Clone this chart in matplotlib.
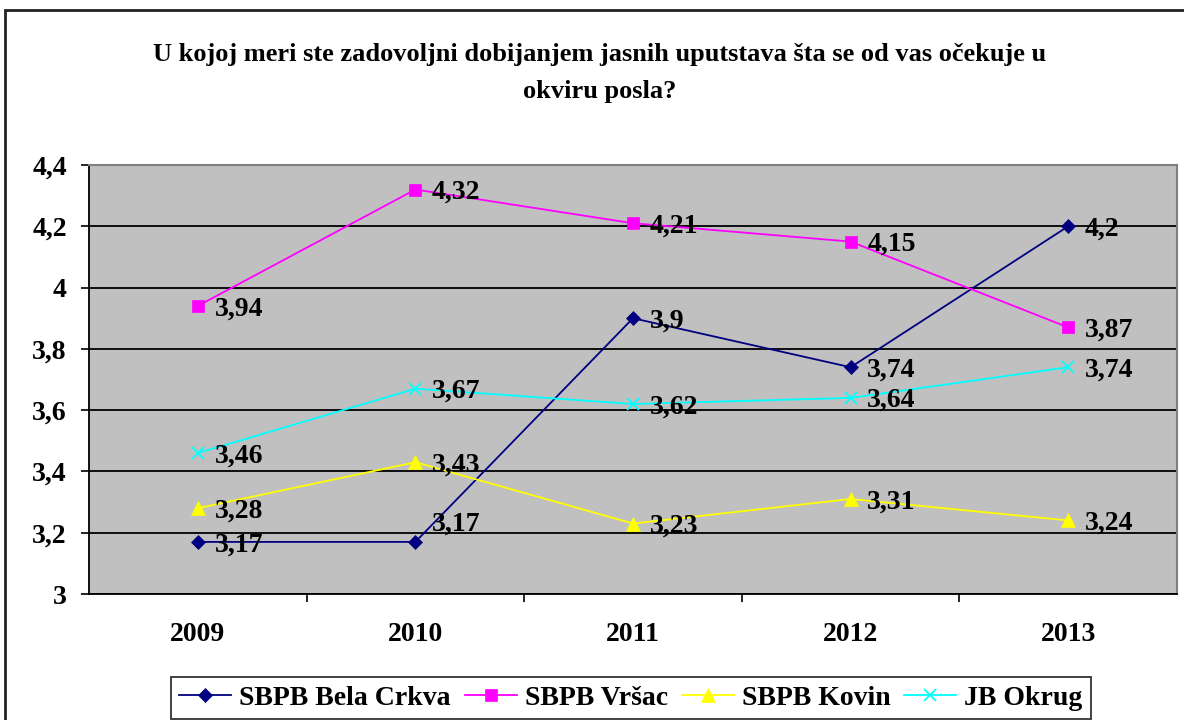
import matplotlib
matplotlib.use("Agg")
import matplotlib.pyplot as plt
from matplotlib.patches import Rectangle

years = ["2009", "2010", "2011", "2012", "2013"]
bela_crkva = [3.17, 3.17, 3.90, 3.74, 4.20]
vrsac = [3.94, 4.32, 4.21, 4.15, 3.87]
kovin = [3.28, 3.43, 3.23, 3.31, 3.24]
jb_okrug = [3.46, 3.67, 3.62, 3.64, 3.74]
series_names = ["SBPB Bela Crkva", "SBPB Vršac", "SBPB Kovin", "JB Okrug"]
y_ticks = [3.0, 3.2, 3.4, 3.6, 3.8, 4.0, 4.2, 4.4]
y_tick_labels = ["3", "3,2", "3,4", "3,6", "3,8", "4", "4,2", "4,4"]
title = "U kojoj meri ste zadovoljni dobijanjem jasnih uputstava šta se od vas očekuje u\nokviru posla?"

def fmt(v):
    s = ("%.2f" % v).rstrip("0").rstrip(".")
    return s.replace(".", ",")

plt.rcParams['font.family'] = ['Liberation Serif', 'DejaVu Serif']
plt.rcParams['font.weight'] = 'bold'

fig = plt.figure(figsize=(11.84, 7.2), dpi=100)
W, H = 1184, 720
ax = fig.add_axes([89 / W, 1 - 594 / H, (1177 - 89) / W, (594 - 165) / H])
ax.set_facecolor("#C0C0C0")

# figure outer border
fig.patches.append(Rectangle((5 / W, -0.1), 1.2, (1 - 10 / H) + 0.1, transform=fig.transFigure,
                             fill=False, edgecolor="#222222", linewidth=2, zorder=0))

x = list(range(len(years)))
styles = [
    (bela_crkva, "#000080", "D", 7),
    (vrsac, "#FF00FF", "s", 8),
    (kovin, "#FFFF00", "^", 10),
    (jb_okrug, "#00FFFF", "x", 8),
]
# label nudges (series index, point index) -> extra vertical offset in points
label_nudge = {(0, 1): 15}
handles = []
for si, ((vals, col, mk, ms), name) in enumerate(zip(styles, series_names)):
    h, = ax.plot(x, vals, color=col, marker=mk, markersize=ms, linewidth=1.3,
                 markeredgewidth=1.3 if mk == "x" else 0.5, markeredgecolor=col,
                 label=name, zorder=3)
    handles.append(h)
    for xi, v in zip(x, vals):
        dy = -2 + label_nudge.get((si, xi), 0)
        ax.annotate(fmt(v), (xi, v), xytext=(12, dy), textcoords="offset points",
                    ha="left", va="center", fontsize=20, fontweight="bold", color="black", zorder=4)

ax.set_xlim(-0.5, 4.5)
ax.set_ylim(3.0, 4.4)
ax.set_yticks(y_ticks)
ax.set_yticklabels(y_tick_labels, fontsize=20, fontweight="bold")
ax.set_xticks([i + 0.5 for i in range(4)])
ax.set_xticklabels([])
ax.set_xticks(x, minor=True)
ax.set_xticklabels(years, minor=True, fontsize=20, fontweight="bold")
ax.tick_params(axis="x", which="minor", length=0, pad=20)
ax.tick_params(axis="x", which="major", length=6, width=1.2, direction="out")
ax.tick_params(axis="y", length=6, width=1.2, direction="out", pad=10)
ax.yaxis.grid(True, color="black", linewidth=1.3)
ax.set_axisbelow(True)
for s in ["top", "right"]:
    ax.spines[s].set_color("#808080")
    ax.spines[s].set_linewidth(1.5)
for s in ["left", "bottom"]:
    ax.spines[s].set_color("black")
    ax.spines[s].set_linewidth(1.3)

fig.text(600 / W, 1 - 73 / H, title, ha="center", va="center", fontsize=19,
         fontweight="bold", linespacing=1.75)

leg = fig.legend(handles=handles, loc="center", bbox_to_anchor=(631 / W, 1 - 698 / H),
                 ncol=4, frameon=True, fancybox=False, edgecolor="black",
                 prop={"weight": "bold", "size": 20}, handlelength=1.87, handletextpad=0.29,
                 columnspacing=0.5, borderpad=0.3, borderaxespad=0)
leg.get_frame().set_linewidth(1.3)

fig.savefig("out.png", dpi=100)
